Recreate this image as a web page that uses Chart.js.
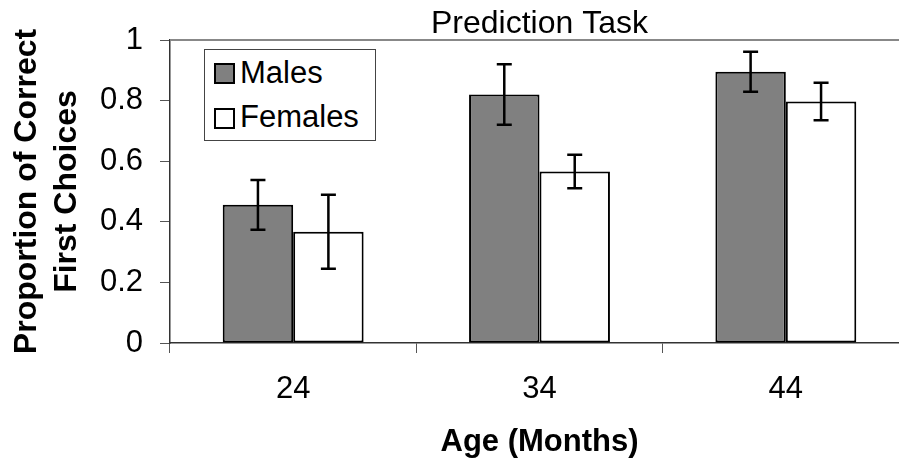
<!DOCTYPE html>
<html>
<head>
<meta charset="utf-8">
<title>Prediction Task</title>
<script src="https://cdn.jsdelivr.net/npm/chart.js@4.4.1/dist/chart.umd.min.js"></script>
<style>
    html, body { margin: 0; padding: 0; background: #fff; overflow: hidden; }
    #wrap { position: relative; width: 899px; height: 464px; overflow: hidden; }
    #chart { position: absolute; left: 0; top: 0; }
    #legend {
        position: absolute; left: 204px; top: 49px; width: 170px; height: 90px;
        border: 1px solid #444; background: #fff;
        font-family: "Liberation Sans", Arial, sans-serif; font-size: 31px; line-height: 30px; color: #000;
    }
    #legend .sw { position: absolute; left: 9px; width: 17px; height: 17px; border: 2px solid #000; }
    #legend .txt { position: absolute; left: 35px; white-space: nowrap; }
</style>
</head>
<body>
<div id="wrap">
    <canvas id="chart" width="912" height="464"></canvas>
    <div id="legend"></div>
</div>
<script>
const ages = ["24", "34", "44"];
const seriesNames = ["Males", "Females"];
const malesValues = [0.456, 0.82, 0.895];
const femalesValues = [0.367, 0.566, 0.797];
const malesErr = [0.082, 0.1, 0.066];
const femalesErr = [0.122, 0.055, 0.062];
const yTicks = [0, 0.2, 0.4, 0.6, 0.8, 1];
const yTickLabels = ["0", "0.2", "0.4", "0.6", "0.8", "1"];

const fillColors = ["#808080", "#ffffff"];
const fontFamily = "'Liberation Sans', Arial, sans-serif";

// error bars drawn on top of the bars, using the bar elements and y scale
const errorBars = {
    id: "errorBars",
    afterDatasetsDraw(chart) {
        const ctx = chart.ctx;
        const y = chart.scales.y;
        ctx.save();
        ctx.strokeStyle = "#000";
        ctx.lineWidth = 2.5;
        chart.data.datasets.forEach((ds, i) => {
            chart.getDatasetMeta(i).data.forEach((bar, j) => {
                const v = ds.data[j], e = ds.errors[j];
                const top = y.getPixelForValue(v + e);
                const bot = y.getPixelForValue(v - e);
                ctx.beginPath();
                ctx.moveTo(bar.x, top); ctx.lineTo(bar.x, bot);
                ctx.moveTo(bar.x - 7.5, top); ctx.lineTo(bar.x + 7.5, top);
                ctx.moveTo(bar.x - 7.5, bot); ctx.lineTo(bar.x + 7.5, bot);
                ctx.stroke();
            });
        });
        ctx.restore();
    }
};

// grey top edge of the plot area
const topEdge = {
    id: "topEdge",
    beforeDatasetsDraw(chart) {
        const a = chart.chartArea, ctx = chart.ctx;
        ctx.save();
        ctx.strokeStyle = "#888";
        ctx.lineWidth = 2;
        ctx.beginPath();
        ctx.moveTo(a.left, a.top);
        ctx.lineTo(a.right, a.top);
        ctx.stroke();
        ctx.restore();
    }
};

const chart = new Chart(document.getElementById("chart"), {
    type: "bar",
    data: {
        labels: ages,
        datasets: [
            { label: seriesNames[0], data: malesValues, errors: malesErr, backgroundColor: fillColors[0] },
            { label: seriesNames[1], data: femalesValues, errors: femalesErr, backgroundColor: fillColors[1] }
        ]
    },
    options: {
        responsive: false,
        animation: false,
        devicePixelRatio: 1,
        layout: { padding: { left: 0, top: 0, right: 3, bottom: 0 } },
        datasets: {
            bar: {
                categoryPercentage: 0.572,
                barPercentage: 1.0,
                borderColor: "#000",
                borderWidth: 2,
                borderSkipped: false
            }
        },
        plugins: {
            legend: { display: false },
            tooltip: { enabled: false },
            title: {
                display: true,
                text: "Prediction Task",
                fullSize: false,
                color: "#000",
                font: { family: fontFamily, size: 32, weight: "normal", lineHeight: 1.0 },
                padding: { top: 8, bottom: 0 }
            }
        },
        scales: {
            x: {
                afterFit(scale) { scale.height = 121; },
                grid: { drawOnChartArea: false, drawTicks: true, tickLength: 10, tickColor: "#555", offset: true },
                border: { color: "#333", width: 1.5 },
                ticks: { color: "#000", padding: 18, font: { family: fontFamily, size: 31 } },
                title: {
                    display: true,
                    text: "Age (Months)",
                    color: "#000",
                    font: { family: fontFamily, size: 31, weight: "bold", lineHeight: 1.2 },
                    padding: { top: 0, bottom: 3 }
                }
            },
            y: {
                min: 0,
                max: 1,
                afterFit(scale) { scale.width = 170; },
                afterBuildTicks(scale) { scale.ticks = yTicks.map(v => ({ value: v })); },
                grid: { drawOnChartArea: false, drawTicks: true, tickLength: 10, tickColor: "#555" },
                border: { color: "#333", width: 1.5 },
                ticks: {
                    color: "#000",
                    padding: 17,
                    font: { family: fontFamily, size: 31 },
                    callback: (value, i) => yTickLabels[i]
                },
                title: {
                    display: true,
                    text: ["Proportion of Correct", "First Choices"],
                    color: "#000",
                    font: { family: fontFamily, size: 32, weight: "bold", lineHeight: "40px" },
                    padding: { top: 7.6, bottom: 0 }
                }
            }
        }
    },
    plugins: [topEdge, errorBars]
});

// legend box placed inside the plot, built from the datasets
const legend = document.getElementById("legend");
const rows = [{ sw: 12.7, txt: 7.9 }, { sw: 58.3, txt: 51.9 }];
chart.data.datasets.forEach((ds, i) => {
    const sw = document.createElement("div");
    sw.className = "sw";
    sw.style.top = rows[i].sw + "px";
    sw.style.background = ds.backgroundColor;
    legend.appendChild(sw);
    const t = document.createElement("div");
    t.className = "txt";
    t.style.top = rows[i].txt + "px";
    t.textContent = ds.label;
    legend.appendChild(t);
});
</script>
</body>
</html>
